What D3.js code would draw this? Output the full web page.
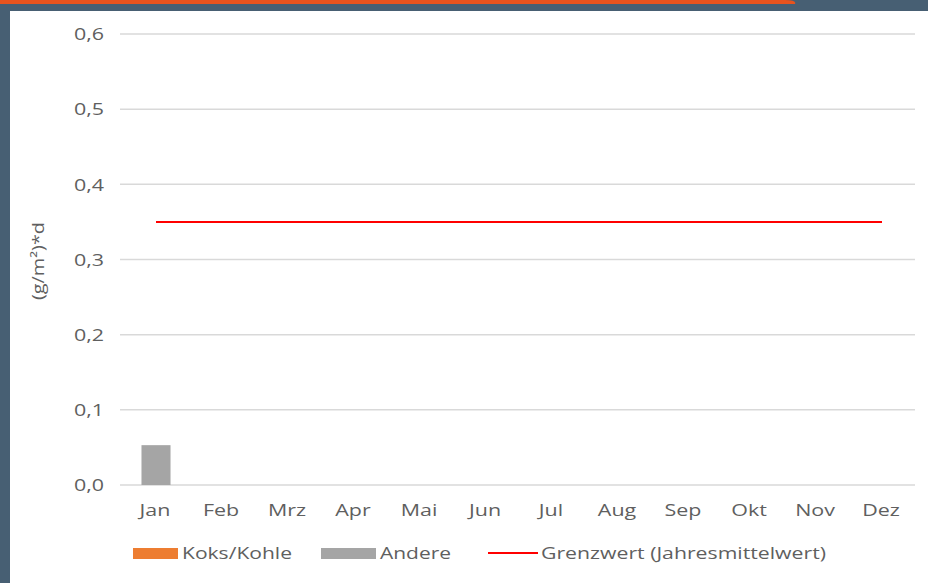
<!DOCTYPE html>
<html><head><meta charset="utf-8">
<script src="https://cdn.jsdelivr.net/npm/d3@7"></script>
<style>body{margin:0;background:#fff;}svg{display:block;}</style>
</head><body>
<svg id="c" width="928" height="583"></svg>
<script>
const months = ["Jan","Feb","Mrz","Apr","Mai","Jun","Jul","Aug","Sep","Okt","Nov","Dez"];
const koksKohle = [0,0,0,0,0,0,0,0,0,0,0,0];
const andere = [0.053,0,0,0,0,0,0,0,0,0,0,0];
const grenzwert = [0.35,0.35,0.35,0.35,0.35,0.35,0.35,0.35,0.35,0.35,0.35,0.35];
const yTicks = [0,0.1,0.2,0.3,0.4,0.5,0.6];
const seriesNames = ["Koks/Kohle","Andere","Grenzwert (Jahresmittelwert)"];
const colors = {koks:"#ed7d31", andere:"#a5a5a5", grenz:"#ff0000"};

const svg = d3.select("#c");
const font = "'Open Sans', 'Noto Sans', sans-serif";
const textCol = "#5f5f5f";
const stretch = 1.3;
function widen(sel){
  sel.each(function(){
    const w = this.getComputedTextLength();
    d3.select(this).attr("textLength", w*stretch).attr("lengthAdjust","spacingAndGlyphs");
  });
}

// frame
svg.append("rect").attr("x",0).attr("y",0).attr("width",928).attr("height",583).attr("fill","#fff");
svg.append("rect").attr("x",0).attr("y",0).attr("width",928).attr("height",11).attr("fill","#475f73");
svg.append("rect").attr("x",0).attr("y",0).attr("width",10).attr("height",583).attr("fill","#475f73");
svg.append("path").attr("d","M0,0 H785 Q797,0 795,4 H0 Z").attr("fill","#e8531e");

const x = d3.scaleBand().domain(months).range([122,914]).paddingInner(0.56).paddingOuter(0.28);
const y = d3.scaleLinear().domain([0,0.6]).range([485,34]);

// grid
svg.append("g").selectAll("line").data(yTicks).join("line")
  .attr("x1",120).attr("x2",915).attr("y1",d=>y(d)).attr("y2",d=>y(d))
  .attr("stroke","#d9d9d9").attr("stroke-width",1.5);

// y axis labels
const yAxis = d3.axisLeft(y).tickValues(yTicks).tickSize(0).tickPadding(0)
  .tickFormat(d=>d3.format(".1f")(d).replace(".",","));
const ga = svg.append("g").attr("transform","translate(104,0)").call(yAxis);
ga.select(".domain").remove();
ga.selectAll("text").attr("font-family",font).attr("font-size",16.5).attr("fill",textCol).attr("dy","0.35em").call(widen);

// x axis labels
const xAxis = d3.axisBottom(x).tickSize(0).tickPadding(0);
const gx = svg.append("g").attr("transform","translate(0,504)").call(xAxis);
gx.select(".domain").remove();
gx.selectAll("text").attr("font-family",font).attr("font-size",16.5).attr("fill",textCol).attr("dy","0.71em").call(widen);

// stacked bars
const stackData = months.map((m,i)=>({m, koks:koksKohle[i], andere:andere[i]}));
const stack = d3.stack().keys(["koks","andere"])(stackData);
svg.append("g").selectAll("g").data(stack).join("g")
  .attr("fill",d=>colors[d.key])
  .selectAll("rect").data(d=>d).join("rect")
  .attr("x",d=>x(d.data.m)+1).attr("width",x.bandwidth())
  .attr("y",d=>y(d[1])).attr("height",d=>y(d[0])-y(d[1]));

// limit line
const line = d3.line().x((d,i)=>x(months[i])+x.bandwidth()/2+1).y(d=>y(d));
svg.append("path").datum(grenzwert).attr("d",line).attr("fill","none")
  .attr("stroke",colors.grenz).attr("stroke-width",2);

// y title
svg.append("text").attr("transform","translate(38,261) rotate(-90)")
  .attr("text-anchor","middle").attr("dy","0.35em").attr("font-family",font).attr("font-size",16.5).attr("fill",textCol)
  .attr("textLength",78).attr("lengthAdjust","spacingAndGlyphs")
  .text("(g/m²)*d");

// legend
const lg = svg.append("g").attr("font-family",font).attr("font-size",17).attr("fill",textCol);
lg.append("rect").attr("x",133).attr("y",548).attr("width",45).attr("height",11).attr("fill",colors.koks);
lg.append("text").attr("x",182).attr("y",553).attr("dy","0.35em").attr("textLength",110).attr("lengthAdjust","spacingAndGlyphs").text(seriesNames[0]);
lg.append("rect").attr("x",321).attr("y",548).attr("width",55).attr("height",11).attr("fill",colors.andere);
lg.append("text").attr("x",380).attr("y",553).attr("dy","0.35em").attr("textLength",71).attr("lengthAdjust","spacingAndGlyphs").text(seriesNames[1]);
lg.append("line").attr("x1",488).attr("x2",538).attr("y1",553).attr("y2",553).attr("stroke",colors.grenz).attr("stroke-width",2);
lg.append("text").attr("x",541).attr("y",553).attr("dy","0.35em").attr("textLength",285).attr("lengthAdjust","spacingAndGlyphs").text(seriesNames[2]);
</script>
</body></html>
